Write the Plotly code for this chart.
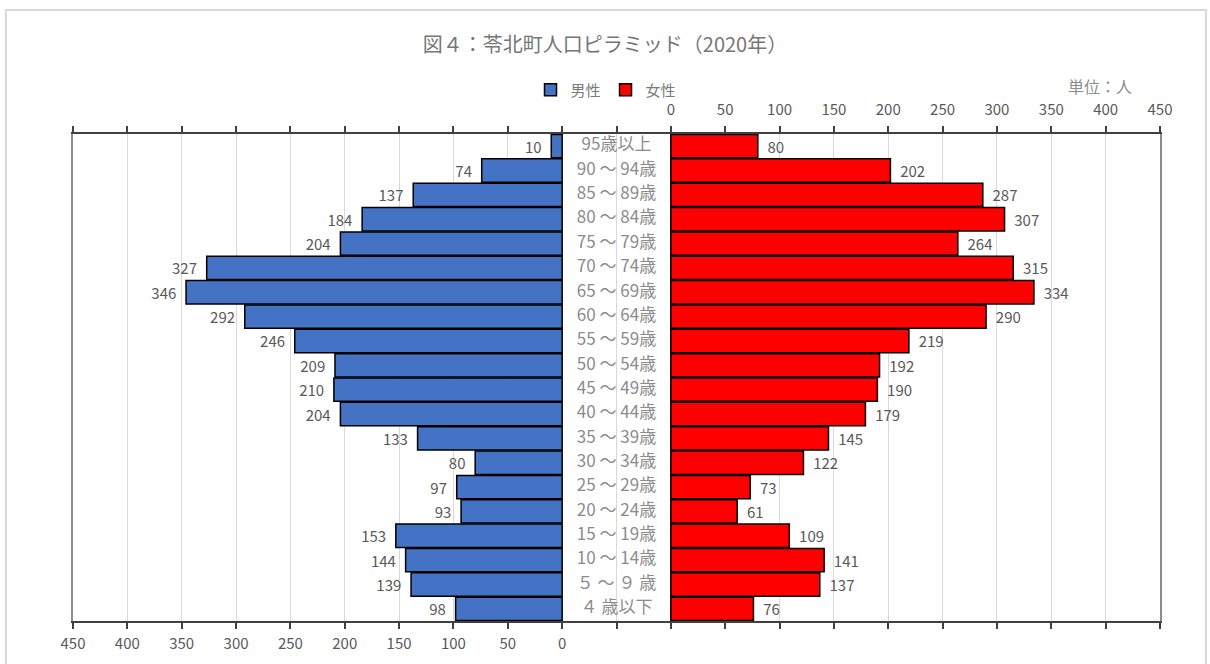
import plotly.graph_objects as go

# ---- data (top row first) ----
age_groups = ["95歳以上", "90 ～ 94歳", "85 ～ 89歳", "80 ～ 84歳", "75 ～ 79歳", "70 ～ 74歳",
              "65 ～ 69歳", "60 ～ 64歳", "55 ～ 59歳", "50 ～ 54歳", "45 ～ 49歳", "40 ～ 44歳",
              "35 ～ 39歳", "30 ～ 34歳", "25 ～ 29歳", "20 ～ 24歳", "15 ～ 19歳", "10 ～ 14歳",
              "５ ～ ９ 歳", "４ 歳以下"]
male = [10, 74, 137, 184, 204, 327, 346, 292, 246, 209, 210, 204, 133, 80, 97, 93, 153, 144, 139, 98]
female = [80, 202, 287, 307, 264, 315, 334, 290, 219, 192, 190, 179, 145, 122, 73, 61, 109, 141, 137, 76]
tick_values = [0, 50, 100, 150, 200, 250, 300, 350, 400, 450]

GAP = 50  # half width of the central label column (axis units)
FONT = "Noto Sans CJK JP"
TXT = "#595959"
NB = "\u00a0"

# tick positions on the combined axis
left_vals = [-GAP - v for v in tick_values]
right_vals = [GAP + v for v in tick_values]
all_vals = sorted(set(left_vals + [0] + right_vals))
bottom_text = [str(-(v + GAP)) if v <= -GAP else "" for v in all_vals]
top_text = [str(v - GAP) if v >= GAP else "" for v in all_vals]

fig = go.Figure()
fig.add_trace(go.Bar(
    name="男性", y=age_groups, x=[-m for m in male], base=-GAP, orientation="h",
    marker=dict(color="#4472C4", line=dict(color="black", width=1.5)),
    text=[str(m) + NB + NB for m in male], textposition="outside", constraintext="none",
    textfont=dict(family=FONT, size=15, color=TXT), cliponaxis=False,
))
fig.add_trace(go.Bar(
    name="女性", y=age_groups, x=female, base=GAP, orientation="h",
    marker=dict(color="#FF0000", line=dict(color="black", width=1.5)),
    text=[NB + NB + str(f) for f in female], textposition="outside", constraintext="none",
    textfont=dict(family=FONT, size=15, color=TXT), cliponaxis=False,
))
fig.add_trace(go.Scatter(
    x=[0] * len(age_groups), y=age_groups, mode="text", text=age_groups,
    textfont=dict(family=FONT, size=17, color="#8c8c8c"), showlegend=False,
    hoverinfo="skip",
))
# invisible trace to activate the top axis
fig.add_trace(go.Scatter(x=[0], y=[age_groups[0]], xaxis="x2", mode="markers",
                         marker=dict(opacity=0), showlegend=False, hoverinfo="skip"))

L, R, T, B = 73, 50, 134, 43
W, H = 1210, 664
pw, ph = W - L - R, H - T - B
n = len(age_groups)

fig.update_layout(
    width=W, height=H, margin=dict(l=L, r=R, t=T, b=B),
    paper_bgcolor="white", plot_bgcolor="white",
    barmode="overlay", bargap=0.04,
    font=dict(family=FONT, color=TXT),
    title=dict(text="図４：苓北町人口ピラミッド（2020年）", x=0.5, xanchor="center",
               y=1 - 45 / H, yanchor="middle",
               font=dict(family=FONT, size=20, color="#767676")),
    legend=dict(orientation="h", x=(606 - L) / pw, xanchor="center",
                y=(H - B - 90) / ph, yanchor="middle",
                font=dict(family=FONT, size=15, color="#7a7a7a"),
                itemwidth=30, bgcolor="rgba(0,0,0,0)"),
    xaxis=dict(range=[-500, 500], tickmode="array", tickvals=all_vals, ticktext=bottom_text,
               showgrid=True, gridcolor="#d9d9d9", gridwidth=1, zeroline=False,
               showline=True, linecolor="#404040", linewidth=2,
               ticks="outside", ticklen=6, tickwidth=2, tickcolor="#404040",
               ticklabelstandoff=2,
               tickfont=dict(family=FONT, size=15, color=TXT), fixedrange=True),
    xaxis2=dict(range=[-500, 500], overlaying="x", side="top", matches="x",
                tickmode="array", tickvals=all_vals, ticktext=top_text,
                showgrid=False, zeroline=False,
                showline=True, linecolor="#404040", linewidth=2,
                ticks="outside", ticklen=6, tickwidth=2, tickcolor="#404040",
                ticklabelstandoff=5,
                tickfont=dict(family=FONT, size=15, color=TXT)),
    yaxis=dict(range=[n - 0.5, -0.5], showticklabels=False, showgrid=False,
               showline=True, mirror=True, linecolor="#8c8c8c", linewidth=2,
               ticks=""),
    annotations=[dict(text="単位：人", xref="paper", yref="paper",
                      x=(1100 - L) / pw, y=(H - B - 86) / ph, xanchor="center",
                      yanchor="middle", showarrow=False,
                      font=dict(family=FONT, size=16, color="#8c8c8c"))],
    shapes=[dict(type="rect", xref="paper", yref="paper",
                 x0=(6 - L) / pw, x1=(1206 - L) / pw,
                 y0=(H - B - 700) / ph, y1=(H - B - 10) / ph,
                 line=dict(color="#d9d9d9", width=2), layer="below")],
)

fig.write_html("out.html")
